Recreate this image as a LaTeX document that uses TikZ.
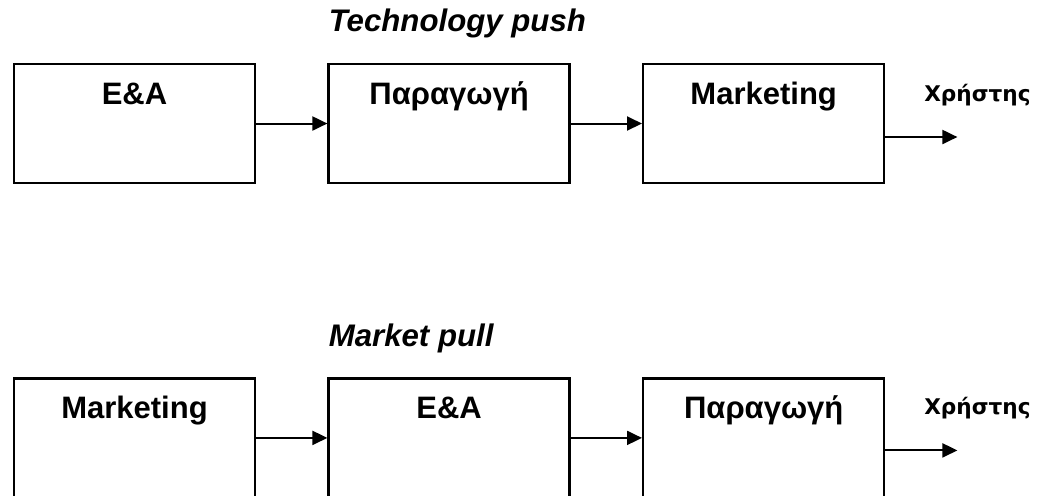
\documentclass[tikz,border=0pt]{standalone}
\usepackage{fontspec}
\setmainfont{Liberation Sans}
\newfontfamily\userfont{DejaVu Sans}
\usetikzlibrary{arrows.meta, positioning}

\begin{document}
\begin{tikzpicture}[
      box/.style={rectangle, draw, line width=1.2pt, minimum width=120.5pt, minimum height=59.5pt, inner xsep=2pt, inner ysep=9pt, text height=11.1pt, text depth=30.4pt, text centered, font=\fontsize{15.5}{18}\selectfont\bfseries},
      arrow/.style={-{Triangle[length=7.5pt, width=7pt]}, line width=1pt},
      title/.style={anchor=base west, inner sep=0pt, font=\fontsize{15.6}{18}\selectfont\bfseries\itshape},
      user/.style={anchor=base, inner sep=0pt, font=\userfont\fontsize{10.8}{13}\selectfont\bfseries},
      node distance=96.5pt and 35.6pt
    ]
    \path[use as bounding box, clip] (0,0) rectangle (519.5pt,-247.5pt);

    % Nodes: technology push
    \node[box] (tRD) at (67.25pt,-61.75pt) {E\&A};
    \node[box, right=of tRD] (tProd) {Παραγωγή};
    \node[box, right=of tProd] (tMkt) {Marketing};
    \node[title] (tTitle) at ([xshift=0.5pt, yshift=15.5pt]tProd.north west) {Technology push};
    \coordinate (tOut) at ([xshift=36pt, yshift=-6.75pt]tMkt.east);
    \node[user] (tUser) at ([xshift=10pt, yshift=18pt]tOut) {Χρήστης};

    % Nodes: market pull
    \node[box, below=of tRD] (mMkt) {Marketing};
    \node[box, right=of mMkt] (mRD) {E\&A};
    \node[box, right=of mRD] (mProd) {Παραγωγή};
    \node[title] (mTitle) at ([xshift=0.5pt, yshift=15.5pt]mRD.north west) {Market pull};
    \coordinate (mOut) at ([xshift=36pt, yshift=-6.25pt]mProd.east);
    \node[user] (mUser) at ([xshift=10pt, yshift=18pt]mOut) {Χρήστης};

    % Arrows
    \draw[arrow] (tRD.east) -- (tProd.west);
    \draw[arrow] (tProd.east) -- (tMkt.west);
    \draw[arrow] (tMkt.east |- tOut) -- (tOut);
    \draw[arrow] (mMkt.east) -- (mRD.west);
    \draw[arrow] (mRD.east) -- (mProd.west);
    \draw[arrow] (mProd.east |- mOut) -- (mOut);

\end{tikzpicture}
\end{document}
